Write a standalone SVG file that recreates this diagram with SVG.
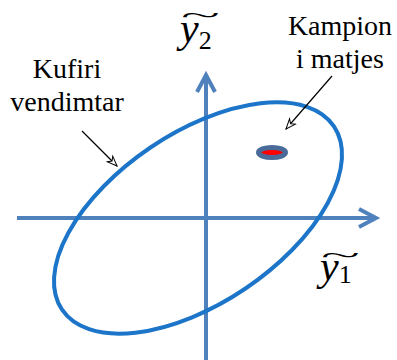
<svg xmlns="http://www.w3.org/2000/svg" width="397" height="360" viewBox="0 0 397 360">
<style>
.axis{stroke:#4f81bd;stroke-width:4;fill:none}
.lbl{font-family:'Liberation Serif','Times New Roman',serif;font-size:28px;fill:#000;text-anchor:middle}
.math{font-family:'Liberation Serif','Times New Roman',serif;font-style:italic;fill:#000}
.sub{font-style:normal}
.lead{stroke:#000;stroke-width:1.2;fill:none}
</style>
<defs>
<marker id="open" viewBox="0 0 12 10" refX="11" refY="5" markerWidth="12" markerHeight="10" markerUnits="userSpaceOnUse" orient="auto">
<path d="M1,1 L11,5 L1,9 L4,5 Z" fill="#fff" stroke="#000" stroke-width="1"/>
</marker>
</defs>
<rect width="397" height="360" fill="#fff"/>
<g id="axes">
<line class="axis" x1="17" y1="218" x2="376" y2="218"/>
<polyline class="axis" points="359,209 376,218 359,227"/>
<line class="axis" x1="206" y1="360" x2="206" y2="75"/>
<polyline class="axis" points="197,92 206,75 215,92"/>
</g>
<g id="ellipse">
<ellipse cx="198" cy="218" rx="164" ry="85" transform="rotate(-34 198 218)" fill="none" stroke="#1c75c8" stroke-width="4"/>
</g>
<g id="point">
<ellipse cx="272" cy="152.5" rx="13.5" ry="5" fill="#ff0000" stroke="#4a6a9a" stroke-width="5"/>
</g>
<g id="label-kufiri">
<text class="lbl" x="67" y="78">Kufiri</text>
<text class="lbl" x="67" y="111">vendimtar</text>
</g>
<g id="label-kampion">
<text class="lbl" x="340" y="35">Kampion</text>
<text class="lbl" x="340" y="68">i matjes</text>
</g>
<g id="label-y2">
<text class="math" x="180" y="42" font-size="42">y<tspan class="sub" font-size="26" dy="7">2</tspan><tspan class="sub" x="181" y="22" font-size="22" textLength="39" lengthAdjust="spacingAndGlyphs">~</tspan></text>
</g>
<g id="label-y1">
<text class="math" x="320" y="280" font-size="42">y<tspan class="sub" font-size="26" dy="3">1</tspan><tspan class="sub" x="321" y="262" font-size="22" textLength="39" lengthAdjust="spacingAndGlyphs">~</tspan></text>
</g>
<g id="connectors">
<line class="lead" x1="82" y1="131" x2="117" y2="166" marker-end="url(#open)"/>
<line class="lead" x1="332" y1="76" x2="286" y2="129" marker-end="url(#open)"/>
</g>
</svg>
